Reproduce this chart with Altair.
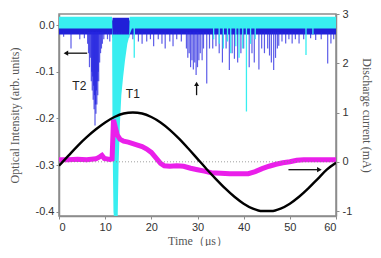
import altair as alt
import pandas as pd

# ---------------- data ----------------
x_ticks = [0, 10, 20, 30, 40, 50, 60]
left_ticks = [-0.4, -0.3, -0.2, -0.1, 0.0]
right_ticks = [-1, 0, 1, 2, 3]

# black: discharge current (mA, right axis)
cur_t = [0, 2, 4, 6, 8, 10, 12, 14, 16, 18, 20, 22, 24, 26, 28, 30,
         32, 34, 36, 38, 40, 42, 44, 46, 48, 50, 52, 54, 56, 58, 60]
cur_v = [-0.08, 0.12, 0.32, 0.50, 0.66, 0.80, 0.91, 0.98, 1.00, 0.98, 0.91,
         0.80, 0.65, 0.47, 0.27, 0.06, -0.15, -0.35, -0.54, -0.71, -0.85,
         -0.95, -1.00, -1.00, -0.95, -0.85, -0.71, -0.54, -0.35, -0.16, -0.02]

# magenta trace (right axis)
mag_t = [0, 2, 4, 6, 8, 8.8, 9.3, 9.8, 11.0, 11.5, 11.8, 12.2, 12.6, 13.2, 14,
         15, 16, 17, 18, 19, 20, 21, 22, 22.8, 24, 25.5, 27, 28.5, 30, 31.5,
         33, 35, 37, 39, 41, 42.5, 44, 45.5, 47, 48.5, 50, 51.5, 53, 55, 57, 60]
mag_v = [0.04, 0.04, 0.05, 0.04, 0.06, 0.10, 0.13, 0.07, 0.05, 0.06, 0.85, 0.70,
         0.55, 0.46, 0.42, 0.40, 0.37, 0.34, 0.31, 0.26, 0.19, 0.08, -0.03, -0.08,
         -0.09, -0.08, -0.09, -0.13, -0.16, -0.19, -0.22, -0.23, -0.24, -0.24,
         -0.24, -0.20, -0.14, -0.09, -0.05, -0.02, 0.00, 0.03, 0.04, 0.04, 0.04, 0.04]

# blue trace: baseline band and downward spikes (left axis)
blue_band_t = [0, 11.55, 11.6, 15.2, 15.25, 60]
blue_band_top = [0.010, 0.010, 0.016, 0.016, 0.010, 0.010]
blue_band_bot = [-0.020, -0.020, -0.027, -0.027, -0.020, -0.020]
blue_base = -0.014
blue_spike_t = [1.0, 2.6, 4.5, 5.5,
                6.2, 6.4, 6.6, 6.8, 7.0, 7.1, 7.2, 7.3, 7.4, 7.5, 7.6, 7.7, 7.8,
                7.9, 8.0, 8.1, 8.2, 8.3, 8.4, 8.5, 8.6, 8.8, 9.0, 9.2, 9.4, 9.7,
                10.5, 11.0, 12.0, 12.5, 13.0, 13.6,
                16.0, 17.2, 18.0, 19.0, 19.8, 20.5, 21.5, 22.3, 23.0, 24.0, 24.7,
                25.5, 26.5, 27.6, 27.9, 28.2, 28.5, 28.8, 29.1, 29.4, 29.7, 30.0,
                30.3, 30.6, 31.0, 31.3, 32.0, 32.6, 33.3, 34.0, 34.7, 35.4, 36.2,
                36.9, 37.5, 38.0, 38.7, 39.4, 40.0, 41.2, 41.8, 42.3, 43.3, 43.9,
                44.5, 45.2, 45.6, 46.0, 46.5, 46.9, 47.3, 47.6, 48.3, 49.1, 49.8,
                50.5, 51.2, 52.0, 53.0, 54.5, 55.6, 56.8, 58.2, 58.9, 59.5]
blue_spike_v = [-0.025, -0.05, -0.03, -0.028,
                -0.04, -0.06, -0.09, -0.07, -0.12, -0.10, -0.14, -0.11, -0.16,
                -0.13, -0.18, -0.15, -0.215, -0.17, -0.19, -0.14, -0.17, -0.12,
                -0.15, -0.10, -0.12, -0.08, -0.06, -0.05, -0.04, -0.03,
                -0.03, -0.035, -0.035, -0.03, -0.035, -0.03,
                -0.03, -0.035, -0.04, -0.035, -0.03, -0.045, -0.03, -0.04, -0.05,
                -0.035, -0.045, -0.03, -0.035, -0.05, -0.07, -0.06, -0.09, -0.075,
                -0.095, -0.08, -0.107, -0.09, -0.075, -0.06, -0.075, -0.05, -0.125,
                -0.05, -0.05, -0.045, -0.06, -0.08, -0.05, -0.096, -0.06, -0.072,
                -0.08, -0.06, -0.05, -0.09, -0.06, -0.08, -0.095, -0.05, -0.06,
                -0.05, -0.065, -0.08, -0.096, -0.07, -0.05, -0.044, -0.035, -0.039,
                -0.03, -0.039, -0.03, -0.039, -0.03, -0.028, -0.032, -0.03, -0.082,
                -0.039, -0.03]

# cyan trace: band with the T1 dip, plus spikes (left axis)
cyan_t = [0, 11.5, 11.6, 11.8, 12.0, 12.7, 12.9, 13.2, 13.5, 13.9, 14.3, 14.8,
          15.2, 15.3, 15.8, 60]
cyan_top = [0.018, 0.018, -0.02, -0.02, -0.02, -0.02, -0.02, -0.02, -0.02, -0.02,
            -0.02, -0.02, -0.02, 0.018, 0.018, 0.018]
cyan_bot = [-0.007, -0.007, -0.25, -0.40, -0.42, -0.42, -0.30, -0.21, -0.15, -0.11,
            -0.075, -0.04, -0.025, -0.02, -0.007, -0.007]
cyan_base = -0.002
cyan_spike_t = [16.3, 33.5, 34.7, 35.6, 36.5, 37.2, 38.3, 39.0, 39.8, 40.6, 41.5,
                42.5, 53.5, 55.0]
cyan_spike_v = [-0.07, -0.03, -0.04, -0.05, -0.035, -0.06, -0.045, -0.07, -0.05,
                -0.185, -0.04, -0.03, -0.064, -0.02]

# annotations
label_text = ["T2", "T1"]
label_t = [4.4, 16.0]
label_v = [-0.13, -0.148]

# ---------------- chart ----------------
SANS = "Liberation Sans"
SERIF = "Liberation Serif"
GRAY = "#8c8c8c"

xs = alt.Scale(domain=[0, 60], nice=False, zero=False)
ls = alt.Scale(domain=[-0.409, 0.024], nice=False, zero=False)
rs = alt.Scale(domain=[-1.1, 3.0], nice=False, zero=False)

x_axis = alt.Axis(values=x_ticks, title="Time（μs）", grid=False, tickSize=3,
                  labelPadding=2, titlePadding=3)
l_axis = alt.Axis(values=left_ticks, title="Optical Intensity (arb. units)",
                  grid=False, tickSize=3, labelPadding=2, titlePadding=14,
                  labelExpr="replace(format(datum.value, '.1f'), '\u2212', '-')")
r_axis = alt.Axis(values=right_ticks, title="Discharge current (mA)", orient="right",
                  grid=False, tickSize=3, labelPadding=3, titlePadding=8,
                  labelExpr="replace(format(datum.value, 'd'), '\u2212', '-')")

X = alt.X("t:Q", scale=xs, axis=x_axis)
YL = alt.Y("v:Q", scale=ls, axis=l_axis)
YR = alt.Y("r:Q", scale=rs, axis=r_axis)

blue_band = alt.Chart(pd.DataFrame({"t": blue_band_t, "v": blue_band_top,
                                    "v2": blue_band_bot})).mark_area(
    color="#2020d8", clip=True).encode(x=X, y=YL, y2="v2:Q")

blue_spikes = alt.Chart(pd.DataFrame({"t": blue_spike_t, "v": blue_spike_v,
                                      "v2": [blue_base] * len(blue_spike_t)})).mark_rule(
    color="#2525e0", strokeWidth=1.2, opacity=0.75, clip=True).encode(x=X, y=YL, y2="v2:Q")

cyan_band = alt.Chart(pd.DataFrame({"t": cyan_t, "v": cyan_top,
                                    "v2": cyan_bot})).mark_area(
    color="#38eef0", clip=True).encode(x=X, y=YL, y2="v2:Q")

cyan_spikes = alt.Chart(pd.DataFrame({"t": cyan_spike_t, "v": cyan_spike_v,
                                      "v2": [cyan_base] * len(cyan_spike_t)})).mark_rule(
    color="#38eef0", strokeWidth=1.3, clip=True).encode(x=X, y=YL, y2="v2:Q")

labels = alt.Chart(pd.DataFrame({"t": label_t, "v": label_v, "s": label_text})).mark_text(
    font=SANS, fontSize=12, color="#222222").encode(x=X, y=YL, text="s:N")

left_arrow_line = alt.Chart(pd.DataFrame({"t": [6.1], "t2": [1.8], "v": [-0.06]})).mark_rule(
    color="#111111", strokeWidth=1.3).encode(x=X, x2="t2:Q", y=YL)
left_arrow_head = alt.Chart(pd.DataFrame({"t": [1.5], "v": [-0.06]})).mark_point(
    shape="triangle-left", filled=True, size=28, color="#111111", opacity=1).encode(x=X, y=YL)

up_arrow_line = alt.Chart(pd.DataFrame({"t": [29.8], "v": [-0.15], "v2": [-0.128]})).mark_rule(
    color="#111111", strokeWidth=1.3).encode(x=X, y=YL, y2="v2:Q")
up_arrow_head = alt.Chart(pd.DataFrame({"t": [29.8], "v": [-0.126]})).mark_point(
    shape="triangle-up", filled=True, size=24, color="#111111", opacity=1).encode(x=X, y=YL)

left_layer = alt.layer(blue_band, blue_spikes, cyan_band, cyan_spikes, labels,
                       left_arrow_line, left_arrow_head, up_arrow_line, up_arrow_head)

magenta = alt.Chart(pd.DataFrame({"t": mag_t, "r": mag_v})).mark_line(
    color="#ea1fea", strokeWidth=5, interpolate="linear", clip=True).encode(x=X, y=YR)

zero_line = alt.Chart(pd.DataFrame({"r": [0]})).mark_rule(
    color="#888888", strokeWidth=0.8, strokeDash=[1, 2]).encode(y=YR)

current = alt.Chart(pd.DataFrame({"t": cur_t, "r": cur_v})).mark_line(
    color="#000000", strokeWidth=2.4, interpolate="monotone", clip=True).encode(x=X, y=YR)

right_arrow_line = alt.Chart(pd.DataFrame({"t": [49.7], "t2": [56.0], "r": [-0.16]})).mark_rule(
    color="#111111", strokeWidth=1.3).encode(x=X, x2="t2:Q", y=YR)
right_arrow_head = alt.Chart(pd.DataFrame({"t": [56.4], "r": [-0.16]})).mark_point(
    shape="triangle-right", filled=True, size=28, color="#111111", opacity=1).encode(x=X, y=YR)

right_layer = alt.layer(magenta, zero_line, current, right_arrow_line, right_arrow_head)

chart = alt.layer(left_layer, right_layer).resolve_scale(y="independent").properties(
    width=365, height=238,
    autosize=alt.AutoSizeParams(type="fit", contains="padding"),
    padding={"left": 0, "top": 0, "right": 0, "bottom": 0},
    background="white",
).configure_view(
    stroke=GRAY, strokeWidth=1.5
).configure_axis(
    labelFont=SANS, labelFontSize=11, labelColor="#333333",
    titleFont=SERIF, titleFontSize=12, titleColor="#555555", titleFontWeight="normal",
    domainColor=GRAY, domainWidth=1.5, tickColor=GRAY, tickWidth=1,
)

chart.save("out.html", embed_options={"renderer": "svg", "actions": False})
